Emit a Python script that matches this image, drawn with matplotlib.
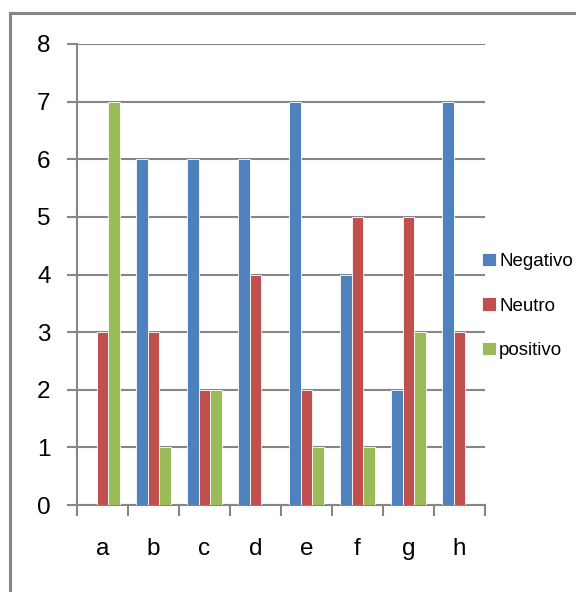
import numpy as np
import matplotlib
matplotlib.use('Agg')
import matplotlib.pyplot as plt
from matplotlib.lines import Line2D

categorias = ['a', 'b', 'c', 'd', 'e', 'f', 'g', 'h']
negativo = [0, 6, 6, 6, 7, 4, 2, 7]
neutro = [3, 3, 2, 4, 2, 5, 5, 3]
positivo = [7, 1, 2, 0, 1, 1, 3, 0]
series = ['Negativo', 'Neutro', 'positivo']
colores = ['#4F81BD', '#C0504D', '#9BBB59']
y_ticks = [0, 1, 2, 3, 4, 5, 6, 7, 8]

gris = '#868686'
plt.rcParams['font.family'] = ['Liberation Sans', 'DejaVu Sans']

fig = plt.figure(figsize=(5.76, 5.92), dpi=100)
ax = fig.add_axes([77 / 576, 1 - 505 / 592, 408 / 576, 461 / 592])

x = np.arange(len(categorias))
ancho = 0.225
for i, (vals, nombre, col) in enumerate(zip([negativo, neutro, positivo], series, colores)):
    ax.bar(x + (i - 1) * ancho, vals, ancho, color=col, label=nombre,
           edgecolor='white', linewidth=0.6, zorder=3)

ax.set_xlim(-0.5, len(categorias) - 0.5)
ax.set_ylim(0, 8)
ax.set_yticks(y_ticks)
ax.set_yticklabels([str(v) for v in y_ticks], fontsize=17.5)
ax.grid(axis='y', color=gris, linewidth=1.5, zorder=0)
ax.tick_params(axis='y', length=7, width=1.5, color=gris, pad=12)

ax.set_xticks(x)
ax.set_xticklabels(categorias, fontsize=17.5)
ax.tick_params(axis='x', length=0, pad=24)
ax.set_xticks(np.arange(len(categorias) + 1) - 0.5, minor=True)
ax.tick_params(axis='x', which='minor', length=8, width=1.5, color=gris)

for s in ['top', 'right']:
    ax.spines[s].set_visible(False)
for s in ['left', 'bottom']:
    ax.spines[s].set_color(gris)
    ax.spines[s].set_linewidth(1.5)

ax.legend(loc='center left', bbox_to_anchor=(0.975, 0.432), frameon=False,
          fontsize=13.5, handlelength=0.75, handleheight=0.75, handletextpad=0.15,
          labelspacing=1.45, borderaxespad=0)

# marco exterior del gráfico
fig.add_artist(Line2D([9.5 / 576, 9.5 / 576], [0, 1 - 13 / 592], color=gris, linewidth=2.2))
fig.add_artist(Line2D([9.5 / 576, 1], [1 - 13 / 592, 1 - 13 / 592], color=gris, linewidth=2.2))

fig.savefig('out.png', dpi=100)
